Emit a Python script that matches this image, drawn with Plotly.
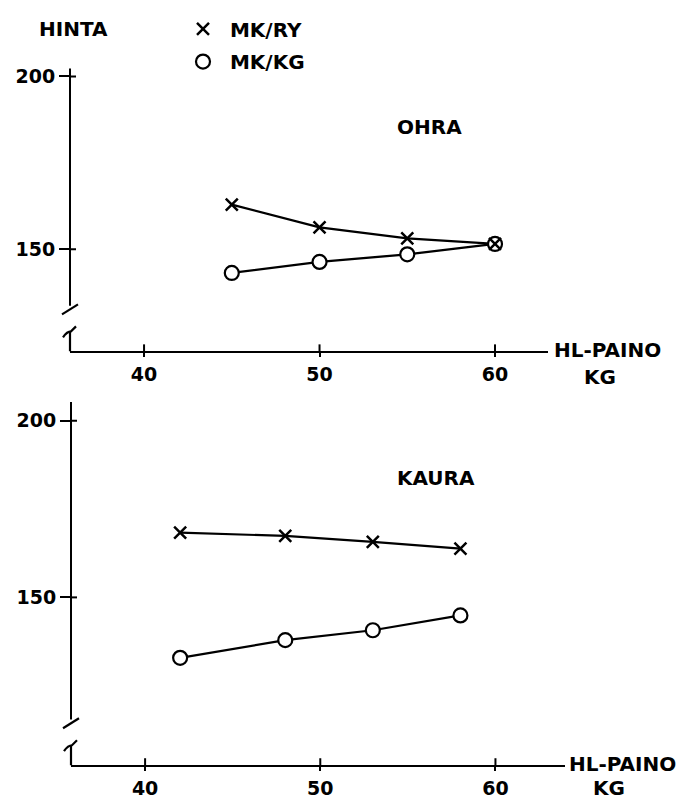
import plotly.graph_objects as go

# ---------------- data ----------------
ohra_x = [45, 50, 55, 60]
ohra_ry = [162.9, 156.3, 153.1, 151.5]
ohra_kg = [143.1, 146.3, 148.5, 151.5]

kaura_x = [42, 48, 53, 58]
kaura_ry = [168.3, 167.4, 165.7, 163.8]
kaura_kg = [132.9, 137.9, 140.7, 144.9]

x_ticks = [40, 50, 60]
y_ticks = [150, 200]
series_names = ["MK/RY", "MK/KG"]
panel_titles = ["OHRA", "KAURA"]
y_title = "HINTA"

# ---------------- layout geometry ----------------
W, H = 678, 799
FONT = dict(family="DejaVu Sans", size=20, color="black", weight="bold")
LEGFONT = dict(family="DejaVu Sans", size=20, color="black", weight="bold")
TICKFONT = dict(family="DejaVu Sans", size=19, color="black", weight="bold")


def px_x(p):
    return p / W


def px_y(p):
    return 1 - p / H


panels = [
    dict(xd=(70, 548), yd=(66, 351), xr=(35.78, 63.02), yr=(120.4, 202.3),
         x=ohra_x, ry=ohra_ry, kg=ohra_kg, title=panel_titles[0], tpos=(430, 125),
         xt_pos=(607, 350), kg_pos=(600, 377)),
    dict(xd=(71, 565), yd=(402, 768), xr=(35.77, 63.97), yr=(102.5, 205.3),
         x=kaura_x, ry=kaura_ry, kg=kaura_kg, title=panel_titles[1], tpos=(436, 479),
         xt_pos=(622, 767), kg_pos=(609, 791)),
]

fig = go.Figure()
shapes = []
annotations = []

cross = dict(symbol="x-thin", size=12, color="black", line=dict(color="black", width=2.5))
circ = dict(symbol="circle", size=14, color="white", line=dict(color="black", width=2.2))
LINE = dict(color="black", width=2.2)

for i, p in enumerate(panels):
    xa = "x" if i == 0 else f"x{i+1}"
    ya = "y" if i == 0 else f"y{i+1}"
    first = i == 0
    fig.add_trace(go.Scatter(x=p["x"], y=p["ry"], mode="lines", line=LINE,
                             xaxis=xa, yaxis=ya, showlegend=False, hoverinfo="skip"))
    fig.add_trace(go.Scatter(x=p["x"], y=p["kg"], mode="lines", line=LINE,
                             xaxis=xa, yaxis=ya, showlegend=False, hoverinfo="skip"))
    fig.add_trace(go.Scatter(x=p["x"], y=p["kg"], mode="markers", marker=circ,
                             name=" " + series_names[1], legend="legend2",
                             xaxis=xa, yaxis=ya, showlegend=first))
    fig.add_trace(go.Scatter(x=p["x"], y=p["ry"], mode="markers", marker=cross,
                             name=" " + series_names[0], legend="legend",
                             xaxis=xa, yaxis=ya, showlegend=first))

    xk = "xaxis" if i == 0 else f"xaxis{i+1}"
    yk = "yaxis" if i == 0 else f"yaxis{i+1}"
    fig.update_layout(**{
        xk: dict(domain=[px_x(p["xd"][0]), px_x(p["xd"][1])], range=list(p["xr"]),
                 anchor=ya, showline=True, linecolor="black", linewidth=2,
                 ticks="outside", ticklen=4, tickwidth=2, tickcolor="black",
                 tickvals=x_ticks, tickfont=TICKFONT, showgrid=False, zeroline=False,
                 ticklabelstandoff=1),
        yk: dict(domain=[px_y(p["yd"][1]), px_y(p["yd"][0])], range=list(p["yr"]),
                 anchor=xa, showline=False,
                 ticks="outside", ticklen=10, tickwidth=2, tickcolor="black",
                 tickvals=y_ticks, tickfont=TICKFONT, showgrid=False, zeroline=False),
    })

    xd = xa + " domain"
    yd = ya + " domain"
    ph = p["yd"][1] - p["yd"][0]
    # broken y axis: upper part
    shapes.append(dict(type="line", xref=xd, yref=yd, x0=0, x1=0, y0=46 / ph, y1=1,
                       line=dict(color="black", width=2)))
    shapes.append(dict(type="path", xref=xd, yref=yd, xsizemode="pixel", ysizemode="pixel",
                       xanchor=0, yanchor=0, path="M -8,37 L 8,47",
                       line=dict(color="black", width=2.2)))
    # lower stub with hook
    shapes.append(dict(type="path", xref=xd, yref=yd, xsizemode="pixel", ysizemode="pixel",
                       xanchor=0, yanchor=0, path="M 0,0 L 0,20 M -7,14 Q -3,20 1,20 L 6,25",
                       line=dict(color="black", width=2.2)))
    for yt in y_ticks:
        shapes.append(dict(type="line", xref=xd, yref=ya, xsizemode="pixel", xanchor=0,
                           x0=0, x1=6, y0=yt, y1=yt, line=dict(color="black", width=2)))
    for xt in x_ticks:
        shapes.append(dict(type="line", xref=xa, yref=yd, ysizemode="pixel", yanchor=0,
                           x0=xt, x1=xt, y0=0, y1=7, line=dict(color="black", width=2)))

    annotations.append(dict(text=p["title"], xref="paper", yref="paper",
                            x=px_x(p["tpos"][0]), y=px_y(p["tpos"][1]),
                            xanchor="center", yanchor="middle", showarrow=False, font=FONT))
    annotations.append(dict(text="HL-PAINO", xref="paper", yref="paper",
                            x=px_x(p["xt_pos"][0]), y=px_y(p["xt_pos"][1]),
                            xanchor="center", yanchor="middle", showarrow=False, font=FONT))
    annotations.append(dict(text="KG", xref="paper", yref="paper",
                            x=px_x(p["kg_pos"][0]), y=px_y(p["kg_pos"][1]),
                            xanchor="center", yanchor="middle", showarrow=False, font=FONT))

annotations.append(dict(text=y_title, xref="paper", yref="paper",
                        x=px_x(73), y=px_y(26), xanchor="center", yanchor="middle",
                        showarrow=False, font=FONT))

leg_common = dict(font=LEGFONT, bgcolor="rgba(0,0,0,0)", borderwidth=0,
                  xanchor="left", yanchor="middle", x=px_x(183))
fig.update_layout(
    width=W, height=H,
    margin=dict(l=0, r=0, t=0, b=0),
    paper_bgcolor="white", plot_bgcolor="white",
    shapes=shapes, annotations=annotations,
    legend=dict(**leg_common, y=px_y(26)),
    legend2=dict(**leg_common, y=px_y(59)),
)

fig.write_html("out.html", config={"displayModeBar": False},
               post_script="document.body.style.margin='0';")
